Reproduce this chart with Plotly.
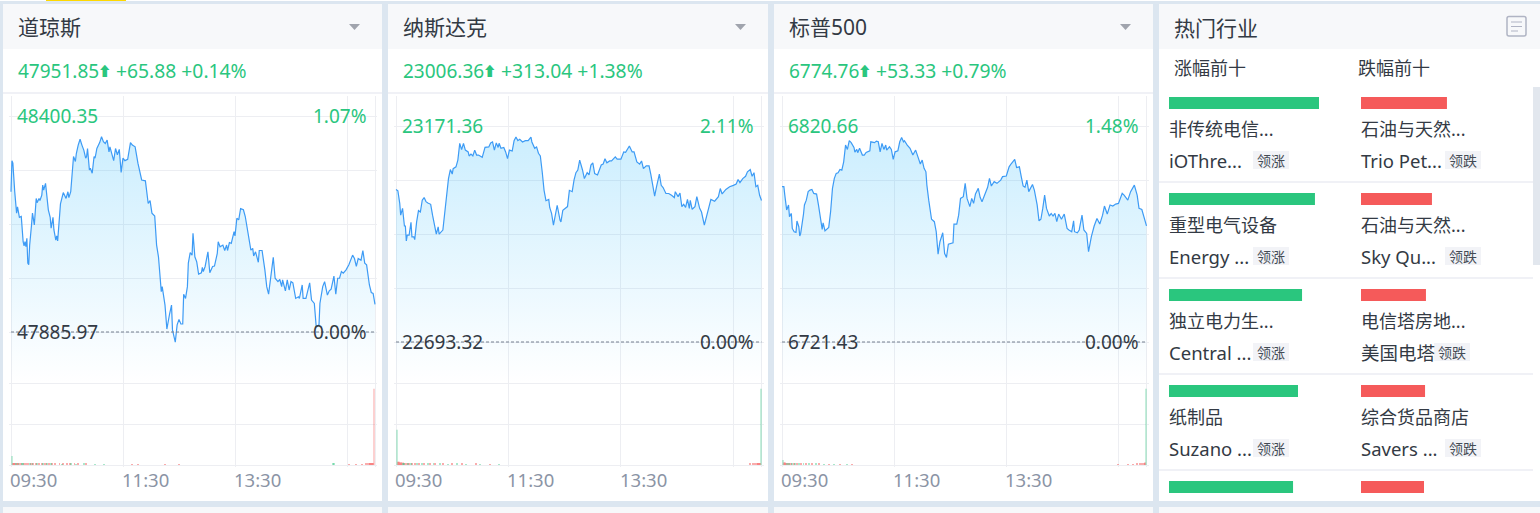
import plotly.graph_objects as go

W, H = 1540, 513
FONT = "Noto Sans, Noto Sans CJK SC, sans-serif"
GREEN, RED, BLUE = "#2ac67e", "#f55a5a", "#3d9bf5"
TEXT, GREY, GRID = "#333a44", "#8b94a5", "#edeef2"
PANEL_HEAD = "#f7f8fa"

## index data ##
names = ["道琼斯", "纳斯达克", "标普500"]
quote_values = ["47951.85", "23006.36", "6774.76"]
quote_changes = ["+65.88 +0.14%", "+313.04 +1.38%", "+53.33 +0.79%"]
highs = [48400.35, 23171.36, 6820.66]
closes = [47885.97, 22693.32, 6721.43]
high_labels = ["48400.35", "23171.36", "6820.66"]
close_labels = ["47885.97", "22693.32", "6721.43"]
high_pcts = ["1.07%", "2.11%", "1.48%"]
time_ticks = [0, 120, 240]
time_labels = ["09:30", "11:30", "13:30"]

dow_min = [0,1,2,3,4,6,7,9,11,13,14,15,16,17,18,19,20,22,23,25,27,28,30,31,33,34,35,37,39,40,42,43,45,46,48,49,50,52,53,56,58,59,61,62,64,65,67,69,70,72,74,76,78,80,81,82,84,85,87,89,90,91,92,95,97,99,101,103,105,106,108,110,112,114,116,118,120,122,125,127,128,130,133,136,138,140,144,147,149,151,154,156,158,160,161,162,165,167,169,170,172,173,176,178,180,182,184,185,187,189,190,192,194,195,197,199,201,204,205,206,208,211,213,216,218,220,221,222,224,227,229,231,232,234,236,239,240,242,244,246,249,251,253,257,259,260,262,265,266,269,272,274,276,278,281,283,286,288,290,291,294,296,298,300,302,305,308,309,312,313,316,320,322,325,327,330,331,334,336,339,341,343,346,348,350,352,354,356,359,362,366,368,370,372,375,377,379,381,384,386,388,390]
dow_px = [48220,48294,48288,48244,48220,48169,48184,48159,48161,48101,48091,48101,48089,48109,48050,48046,48093,48141,48169,48141,48204,48194,48204,48199,48212,48236,48224,48240,48200,48177,48159,48133,48159,48129,48105,48115,48103,48161,48191,48218,48208,48204,48220,48206,48220,48252,48304,48292,48311,48331,48345,48331,48319,48300,48304,48323,48272,48276,48264,48304,48300,48311,48323,48337,48351,48339,48335,48343,48315,48327,48308,48294,48323,48308,48321,48266,48300,48294,48297,48327,48337,48331,48327,48288,48268,48248,48246,48192,48199,48169,48162,48093,48065,48010,47982,47994,47950,47893,47926,47930,47950,47891,47862,47903,47916,47905,47905,47976,47966,47994,48050,48075,48069,48121,48065,48053,48024,48027,48040,48030,48042,48077,48027,48042,48043,48067,48073,48101,48089,48093,48080,48093,48080,48099,48097,48125,48115,48157,48153,48180,48177,48161,48137,48081,48085,48067,48077,48052,48080,48080,48034,47994,47976,48014,48064,48014,48006,48011,47994,48010,47984,48010,47986,48006,48003,47966,47970,47966,47998,47966,47966,48003,47962,47954,47899,47903,47954,47994,48006,47974,47984,47988,48019,47976,48014,48014,48030,48026,48034,48046,48069,48061,48042,48061,48057,48080,48050,48046,47998,47980,47978,47951.85]

nasdaq_min = [0,2,4,5,7,9,10,11,12,14,16,17,19,20,22,24,26,28,30,32,34,37,39,41,43,45,46,50,52,54,56,58,60,61,64,66,68,70,72,74,77,78,80,82,84,86,88,92,95,99,101,103,105,107,109,110,112,115,117,119,121,124,126,128,130,132,135,138,141,144,145,148,150,152,154,156,158,160,163,164,166,168,170,172,175,176,178,181,183,185,188,190,192,194,196,199,201,204,206,208,210,212,215,219,221,223,225,228,230,234,236,240,243,245,249,252,254,257,260,262,264,267,270,272,274,276,278,281,283,285,288,291,294,297,298,301,303,305,307,309,311,313,314,316,319,321,324,326,329,331,334,336,340,344,346,348,352,356,360,363,365,367,370,373,375,378,380,382,384,386,388,390]
nasdaq_px = [23031,23028,23000,22974,22989,22950,22950,22917,22930,22930,22958,22926,22926,22920,22959,22984,22981,23007,23013,23004,23001,22998,22974,22952,22932,22948,22932,22941,22978,23022,23055,23075,23065,23077,23081,23096,23133,23119,23133,23118,23114,23105,23109,23105,23118,23107,23107,23102,23124,23125,23134,23136,23118,23134,23124,23133,23122,23124,23114,23099,23118,23116,23139,23147,23139,23142,23136,23139,23139,23147,23136,23122,23125,23111,23105,23070,23029,23006,23009,22991,22978,22952,22978,22996,22963,22959,22985,22991,22993,23029,23026,23052,23068,23074,23096,23074,23055,23068,23063,23085,23090,23066,23063,23085,23087,23099,23090,23094,23094,23103,23098,23098,23114,23113,23127,23114,23114,23092,23087,23094,23077,23083,23083,23063,23037,23016,23037,23065,23040,23035,23022,23022,23018,23013,23026,23015,23023,22993,22998,22991,23009,22989,23007,22987,22993,23015,22989,22981,22952,22967,22993,23009,23005,23015,23033,23021,23031,23037,23040,23043,23053,23046,23055,23060,23070,23075,23060,23068,23037,23040,23018,23006.36]

sp_min = [0,2,3,5,7,8,10,11,13,15,16,18,19,20,23,24,26,28,30,32,34,37,39,41,43,44,46,50,52,54,56,58,60,62,64,66,68,70,72,74,77,78,80,81,83,86,88,90,94,95,99,101,103,105,107,109,111,112,115,117,119,121,124,126,128,130,131,134,137,140,143,146,148,150,152,154,155,157,160,163,165,167,169,172,174,176,178,183,184,187,189,191,194,196,198,201,203,205,207,210,212,214,217,220,222,224,227,230,234,236,240,243,245,249,251,254,256,258,260,262,264,268,270,273,275,277,279,281,283,286,288,290,292,294,296,299,302,305,307,310,312,313,316,318,321,323,326,328,331,334,337,340,343,345,348,351,354,357,360,364,366,370,373,377,380,382,385,387,390]
sp_px = [6792.8,6792.8,6788.9,6782.1,6784.4,6779.0,6780.5,6773.6,6772.1,6771.8,6777.0,6774.4,6770.1,6771.3,6780.2,6784.4,6786.6,6790.5,6791.2,6791.5,6789.7,6789.4,6784.4,6779.0,6773.2,6776.2,6772.5,6774.1,6781.3,6792.0,6796.6,6798.9,6799.2,6800.7,6800.4,6804.2,6811.9,6809.9,6813.9,6813.0,6810.8,6808.7,6809.9,6808.4,6810.4,6807.3,6807.3,6808.5,6809.3,6813.4,6813.0,6813.7,6813.4,6808.8,6812.7,6809.9,6811.9,6809.6,6811.1,6809.9,6805.3,6808.8,6809.3,6813.4,6815.4,6813.4,6813.9,6811.9,6810.4,6807.3,6809.6,6805.8,6803.2,6805.0,6801.2,6799.6,6793.5,6786.6,6777.8,6776.7,6772.1,6761.8,6767.5,6771.6,6762.1,6760.3,6766.4,6767.0,6775.6,6775.6,6779.7,6787.4,6788.2,6794.3,6787.4,6783.6,6787.4,6785.1,6789.4,6792.0,6787.9,6785.9,6789.7,6792.5,6796.6,6793.1,6795.1,6794.3,6795.8,6797.4,6797.7,6801.9,6803.2,6805.3,6801.6,6801.9,6797.4,6793.1,6792.5,6795.8,6790.5,6793.8,6791.2,6784.4,6777.1,6777.8,6782.8,6788.9,6782.8,6779.3,6780.5,6779.3,6780.5,6776.7,6780.2,6777.8,6780.2,6773.6,6772.9,6772.1,6777.1,6772.1,6771.6,6772.9,6779.7,6772.9,6771.3,6762.9,6769.8,6774.7,6778.2,6775.6,6779.7,6783.9,6780.2,6784.4,6783.9,6784.8,6785.1,6789.7,6788.9,6786.6,6790.5,6793.5,6788.9,6782.8,6782.3,6778.7,6774.76]

dow_red_min = [2,3,4,6,7,9,11,14,16,18,21,24,27,30,33,36,38,41,44,47,52,56,60,63,68,72,80,130,136,165,180,362,370,376,380,382,384,385,386,387,388,389]
dow_red_vol = [2,2,2,2,1.5,2,1.5,2,1.5,2,1.5,2,1.5,1.5,2,1.5,2,1.5,1.5,2,1.5,1.5,1.5,1.5,1.5,1.5,1.5,1,1,1,1,1,1,1,1.5,1.5,2,2,2,2,2,93]
dow_green_min = [1,5,8,12,13,20,23,28,34,39,43,55,64,70,78,90,100,345,346]
dow_green_vol = [11,1.5,1.5,1.5,1.5,1.5,1.5,1.5,1.5,1.5,1.5,1,1.5,1,1.5,1,1,2.5,2.5]
nasdaq_red_min = [2,3,4,5,6,8,10,12,14,17,20,25,30,36,42,50,60,70,85,100,378,381,383,385,386,387,388]
nasdaq_red_vol = [4,4,3,3,3,3,2,2,2,2,2,2,2,1.5,1.5,1.5,1.5,1.5,1.5,1,1.5,1.5,2,2,2,2,2]
nasdaq_green_min = [1,7,9,13,16,22,28,34,40,47,55,65,75,90,110,389]
nasdaq_green_vol = [43,2,2,2,2,1.5,1.5,1.5,1.5,1.5,1,1.5,1,1,1,93]
sp_red_min = [2,3,4,6,8,10,13,16,20,26,32,40,50,62,75,360,370,376,380,383,385,387,388]
sp_red_vol = [3,3,2,2,2,2,1.5,1.5,1.5,1.5,1.5,1.5,1,1,1,1,1,1,1.5,1.5,2,2,3]
sp_green_min = [1,5,7,11,14,18,23,29,36,45,56,70,389]
sp_green_vol = [6,2,2,1.5,1.5,1.5,1.5,1.5,1.5,1,1,1,93]

## sector data, bar lengths as share of the longest bar ##
gain_share = [100, 97.3, 88.7, 86, 82.7]
fall_share = [57.3, 47.3, 43.3, 42.7, 42]
gain_names = ["非传统电信...", "重型电气设备", "独立电力生...", "纸制品"]
gain_leaders = ["iOThre...", "Energy ...", "Central ...", "Suzano ..."]
fall_names = ["石油与天然...", "石油与天然...", "电信塔房地...", "综合货品商店"]
fall_leaders = ["Trio Pet...", "Sky Qu...", "美国电塔", "Savers ..."]

series = [(dow_min, dow_px, dow_red_min, dow_red_vol, dow_green_min, dow_green_vol),
          (nasdaq_min, nasdaq_px, nasdaq_red_min, nasdaq_red_vol, nasdaq_green_min, nasdaq_green_vol),
          (sp_min, sp_px, sp_red_min, sp_red_vol, sp_green_min, sp_green_vol)]

panel_x = [(3, 382), (388, 768), (774, 1153)]
plot_x = [(11, 375), (396, 761.5), (782, 1146.5)]
high_y = [116, 126, 126]
zero_y = [332, 342, 342]
value_w = [81, 81, 70]
PLOT_TOP, PRICE_BOTTOM, VOL_BOTTOM = 96, 383, 465
PAD = 2  # plotly drops gridlines sitting on an axis end, so axes run a little past them


def fx(x):
    return x / W


def fy(y):
    return 1 - y / H


shapes, notes = [], []


def rect(x0, x1, y0, y1, color):
    shapes.append(dict(type="rect", xref="paper", yref="paper", x0=fx(x0), x1=fx(x1), y0=fy(y0), y1=fy(y1),
                       fillcolor=color, line_width=0, layer="below"))


def label(x, y, text, size=18, color=TEXT, anchor="left"):
    if anchor == "left":
        x -= 1
    elif anchor == "right":
        x += 2
    notes.append(dict(xref="paper", yref="paper", x=fx(x), y=fy(y), text=text, showarrow=False, xanchor=anchor,
                      yanchor="middle", font=dict(size=size, color=color, family=FONT), borderpad=0))


fig = go.Figure()
layout_axes = {}

rect(0, W, 0, 1, "#ffffff")
rect(46, 126, 0, 1, "#ffd800")

for i, name in enumerate(names):
    x0, x1 = panel_x[i]
    rect(x0, x1, 4, 501, "#ffffff")
    rect(x0, x1, 4, 49, PANEL_HEAD)
    rect(x0, x1, 92, 94, "#f0f1f6")
    rect(x0, x1, 507, 513, PANEL_HEAD)
    label(x0 + 15, 27, name, size=21)
    label(x0 + 15, 71, quote_values[i], size=19, color=GREEN)
    label(x0 + 16 + value_w[i] + 5, 71, "⬆", size=13.5, color=GREEN, anchor="center")
    label(x0 + 16 + value_w[i] + 16, 71, quote_changes[i], size=19.3, color=GREEN)
    tri = "M {} {} L {} {} L {} {} Z".format(fx(x1 - 33), fy(24), fx(x1 - 22), fy(24), fx(x1 - 27.5), fy(30))
    shapes.append(dict(type="path", xref="paper", yref="paper", path=tri, fillcolor="#a0a4ad", line_width=0))

    minutes, prices, red_min, red_vol, green_min, green_vol = series[i]
    close, high = closes[i], highs[i]
    per_px = (high - close) / (zero_y[i] - high_y[i])
    low_edge = close - per_px * (PRICE_BOTTOM - zero_y[i])
    top_edge = high + per_px * (high_y[i] - PLOT_TOP)
    price_grid = [close + (high - close) * k / 4 for k in range(5)]
    xa, ya = 2 * i + 1, 2 * i + 1
    xb, yb = 2 * i + 2, 2 * i + 2
    min_per_px = 390 / (plot_x[i][1] - plot_x[i][0])
    vol_per_px = 100 / (VOL_BOTTOM - PRICE_BOTTOM)
    dom = [fx(plot_x[i][0] - PAD), fx(plot_x[i][1] + PAD)]
    x_range = [-PAD * min_per_px, 390 + PAD * min_per_px]

    fig.add_trace(go.Scatter(x=minutes, y=prices, mode="lines", line=dict(color=BLUE, width=1.2), fill="tozeroy",
                             fillgradient=dict(type="vertical", start=max(prices), stop=low_edge,
                                               colorscale=[[0, "rgba(0,170,250,0.2)"], [1, "rgba(0,170,250,0)"]]),
                             xaxis="x%d" % xa, yaxis="y%d" % ya))
    fig.add_trace(go.Scatter(x=[0, 390], y=[close, close], mode="lines", line=dict(color="#76808f", width=1, dash="3px,2px"),
                             xaxis="x%d" % xa, yaxis="y%d" % ya))
    fig.add_trace(go.Bar(x=red_min, y=red_vol, width=1, marker=dict(color=RED, line_width=0, opacity=[0.28 if v > 20 else 0.5 for v in red_vol]),
                         xaxis="x%d" % xb, yaxis="y%d" % yb))
    fig.add_trace(go.Bar(x=green_min, y=green_vol, width=1, marker=dict(color=GREEN, line_width=0, opacity=[0.28 if v > 5 else 0.4 for v in green_vol]),
                         xaxis="x%d" % xb, yaxis="y%d" % yb))

    common_x = dict(domain=dom, range=x_range, tickvals=[0, 120, 240, 360, 390], showticklabels=False, ticks="",
                    showgrid=True, gridcolor=GRID, gridwidth=1, zeroline=False, showline=False)
    common_y = dict(showticklabels=False, ticks="", showgrid=True, gridcolor=GRID, gridwidth=1, zeroline=False, showline=False)
    layout_axes["xaxis%d" % xa] = dict(common_x, anchor="y%d" % ya)
    layout_axes["yaxis%d" % ya] = dict(common_y, anchor="x%d" % xa, domain=[fy(PRICE_BOTTOM), fy(PLOT_TOP)],
                                       range=[low_edge, top_edge], tickvals=price_grid)
    layout_axes["xaxis%d" % xb] = dict(common_x, anchor="y%d" % yb)
    layout_axes["yaxis%d" % yb] = dict(common_y, anchor="x%d" % xb, domain=[fy(VOL_BOTTOM + PAD), fy(PRICE_BOTTOM - PAD)],
                                       range=[-PAD * vol_per_px, 100 + PAD * vol_per_px], tickvals=[0, 50, 100])

    left, right = plot_x[i][0] + 6, plot_x[i][1] - 9
    label(left, high_y[i], high_labels[i], size=19, color=GREEN)
    label(right, high_y[i], high_pcts[i], size=19, color=GREEN, anchor="right")
    label(left, zero_y[i], close_labels[i], size=19)
    label(right, zero_y[i], "0.00%", size=19, anchor="right")
    for t, txt in zip(time_ticks, time_labels):
        notes.append(dict(xref="x%d" % xb, yref="paper", x=t, y=fy(479), xshift=-2, text=txt, showarrow=False, xanchor="left",
                          yanchor="middle", font=dict(size=18.5, color=GREY, family=FONT), borderpad=0))

## sector panel ##
rect(1159, W, 4, 501, "#ffffff")
rect(1159, W, 4, 49, PANEL_HEAD)
rect(1159, W, 507, 513, PANEL_HEAD)
rect(1533, W, 87, 265, "#e2e7ee")
for y in [182, 278, 374, 470]:
    rect(1159, 1533, y - 1, y + 1, "#f0f1f6")
label(1174, 28, "热门行业", size=21)
label(1174, 68, "涨幅前十", size=18)
label(1358, 68, "跌幅前十", size=18)
icon = "M {} {} L {} {} Q {} {} {} {} L {} {} Q {} {} {} {} L {} {} Q {} {} {} {} L {} {} Q {} {} {} {} Z".format(
    fx(1509), fy(16.5), fx(1524), fy(16.5), fx(1526), fy(16.5), fx(1526), fy(18.5), fx(1526), fy(34), fx(1526), fy(36),
    fx(1524), fy(36), fx(1509), fy(36), fx(1507), fy(36), fx(1507), fy(34), fx(1507), fy(18.5), fx(1507), fy(16.5), fx(1509), fy(16.5))
shapes.append(dict(type="path", xref="paper", yref="paper", path=icon, line=dict(color="#b0b4c4", width=1.5), fillcolor="rgba(0,0,0,0)"))
for y, x_end in [(22, 1522), (26.5, 1522), (31, 1518)]:
    shapes.append(dict(type="line", xref="paper", yref="paper", x0=fx(1511), x1=fx(x_end), y0=fy(y), y1=fy(y),
                       line=dict(color="#b0b4c4", width=1)))

rows = [0, 1, 2, 3, 4]
for col, (vals, color, xpos) in enumerate([(gain_share, GREEN, 1169), (fall_share, RED, 1361)]):
    n = 7 + col
    fig.add_trace(go.Bar(x=vals, y=rows, orientation="h", width=0.125, marker=dict(color=color, line_width=0),
                         xaxis="x%d" % n, yaxis="y%d" % n))
    layout_axes["xaxis%d" % n] = dict(domain=[fx(xpos), fx(xpos + 150)], range=[0, 100], visible=False, anchor="y%d" % n)
    layout_axes["yaxis%d" % n] = dict(domain=[0, fy(55)], range=[4.27, -0.5], visible=False, anchor="x%d" % n)

for r in range(4):
    top = 96 * r
    label(1169, 129 + top, gain_names[r], size=18)
    label(1169, 160 + top, gain_leaders[r], size=18.5)
    label(1361, 129 + top, fall_names[r], size=18)
    label(1361, 160 + top, fall_leaders[r], size=18.5)
    rect(1253, 1289, 151 + top, 169 + top, "#f2f3f7")
    label(1271, 160 + top, "领涨", size=14, color="#444b55", anchor="center")
    tag_x = 1434 if r == 2 else 1445
    rect(tag_x, tag_x + 36, 151 + top, 169 + top, "#f2f3f7")
    label(tag_x + 18, 160 + top, "领跌", size=14, color="#444b55", anchor="center")

fig.update_layout(width=W, height=H, margin=dict(l=0, r=0, t=0, b=0), paper_bgcolor="#dce6f0", plot_bgcolor="rgba(0,0,0,0)",
                  showlegend=False, barmode="overlay", font_family=FONT, shapes=shapes, annotations=notes, **layout_axes)

# page body has a default margin, the picture has to start at the window corner
fig.write_html("out.html", config=dict(displayModeBar=False),
               post_script="document.body.style.margin='0';document.body.style.overflow='hidden';")
